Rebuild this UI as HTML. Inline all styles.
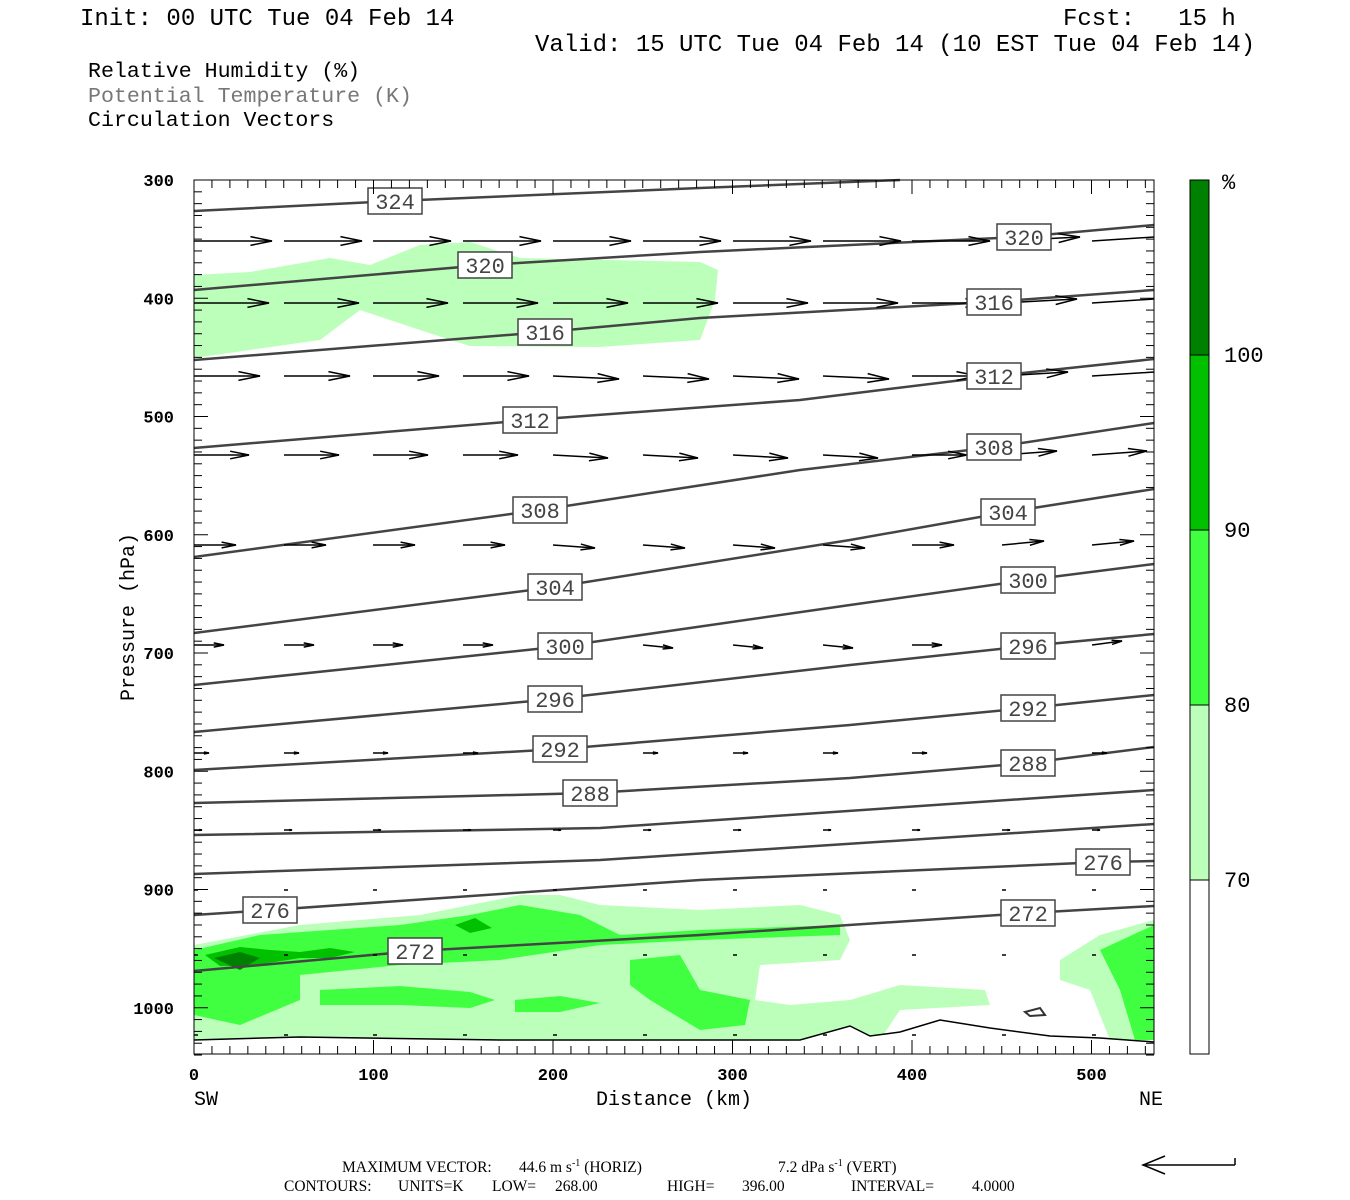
<!DOCTYPE html>
<html><head><meta charset="utf-8"><style>
body{margin:0;background:#fff;width:1350px;height:1200px;overflow:hidden}
svg{position:absolute;left:0;top:0}
</style></head><body>
<svg id="s" width="1350" height="1200" xmlns="http://www.w3.org/2000/svg" font-family="Liberation Mono, monospace">
<g font-size="24" fill="#000">
<text x="80" y="25">Init: 00 UTC Tue 04 Feb 14</text>
<text x="1063" y="25" xml:space="preserve">Fcst:   15 h</text>
<text x="535" y="51">Valid: 15 UTC Tue 04 Feb 14 (10 EST Tue 04 Feb 14)</text>
</g>
<g font-size="21.6">
<text x="88" y="77">Relative Humidity (%)</text>
<text x="88" y="102" fill="#777">Potential Temperature (K)</text>
<text x="88" y="126">Circulation Vectors</text>
</g>
<g stroke="none">
<polygon fill="#bbffbb" points="194,275 250,272 330,258 370,265 420,245 470,242 520,258 700,262 718,270 715,300 700,340 600,347 470,346 420,330 360,310 320,340 250,350 194,358"/>
<polygon fill="#bbffbb" points="194,945 300,925 420,915 520,895 560,895 600,905 700,910 800,905 840,915 850,940 840,960 760,965 755,1000 790,1005 850,1000 900,985 985,990 990,1005 900,1010 880,1040 194,1040"/>
<polygon fill="#bbffbb" points="1060,960 1100,935 1154,920 1154,1040 1110,1040 1090,990 1060,980"/>
<polygon fill="#40ff40" points="194,950 260,935 400,925 470,915 520,905 580,915 620,935 700,930 840,925 840,935 700,940 600,945 500,960 400,965 300,975 300,1000 240,1025 194,1015"/>
<polygon fill="#40ff40" points="630,960 680,955 700,990 750,1000 745,1025 700,1030 650,1000 630,985"/>
<polygon fill="#40ff40" points="320,990 400,986 470,992 495,1000 470,1008 400,1005 320,1005"/>
<polygon fill="#40ff40" points="515,1000 560,996 600,1003 560,1012 515,1012"/>
<polygon fill="#40ff40" points="1100,950 1154,925 1154,1040 1135,1040 1120,990"/>
<polygon fill="#00c000" points="205,955 240,947 270,950 300,952 330,948 355,952 330,958 300,958 250,966 220,966"/>
<polygon fill="#00c000" points="455,925 475,918 492,928 470,933"/>
<polygon fill="#008000" points="214,958 240,952 260,958 240,970"/>
<polygon fill="#fff" points="194,1040 300,1037 500,1040 700,1040 800,1040 850,1026 870,1036 900,1032 940,1020 990,1028 1050,1036 1100,1038 1154,1042 1154,1054 194,1054"/>
</g>
<polyline points="194,1040 300,1037 500,1040 700,1040 800,1040 850,1026 870,1036 900,1032 940,1020 990,1028 1050,1036 1100,1038 1154,1042" fill="none" stroke="#000" stroke-width="1.5"/>
<polygon points="1025,1012 1040,1008 1045,1015 1030,1016" fill="none" stroke="#333" stroke-width="2"/>
<g id="th" fill="none" stroke="#444" stroke-width="2.5"></g>
<g id="ar" fill="none" stroke="#000" stroke-width="1.5"></g>
<g id="lb" font-size="22" fill="#444"></g>
<g id="ax" stroke="#000" stroke-width="1"></g>
<rect x="194" y="180" width="960" height="874" fill="none" stroke="#000" stroke-width="1"/>
<g font-size="17" font-weight="bold" text-anchor="end" id="yl"></g>
<g font-size="17" font-weight="bold" text-anchor="middle" id="xl"></g>
<text font-size="20" x="0" y="0" transform="translate(134,617) rotate(-90)" text-anchor="middle">Pressure (hPa)</text>
<text font-size="20" x="674" y="1105" text-anchor="middle">Distance (km)</text>
<text font-size="20" x="194" y="1105">SW</text>
<text font-size="20" x="1139" y="1105">NE</text>
<rect x="1190" y="180" width="19" height="175" fill="#008000"/>
<rect x="1190" y="355" width="19" height="175" fill="#00c000"/>
<rect x="1190" y="530" width="19" height="175" fill="#40ff40"/>
<rect x="1190" y="705" width="19" height="175" fill="#bbffbb"/>
<rect x="1190" y="180" width="19" height="874" fill="none" stroke="#000"/>
<g stroke="#000"><line x1="1190" y1="355" x2="1209" y2="355"/><line x1="1190" y1="530" x2="1209" y2="530"/><line x1="1190" y1="705" x2="1209" y2="705"/><line x1="1190" y1="880" x2="1209" y2="880"/></g>
<g font-size="22"><text x="1222" y="189">%</text><text x="1224" y="362">100</text><text x="1224" y="537">90</text><text x="1224" y="712">80</text><text x="1224" y="887">70</text></g>
<g font-family="Liberation Serif, serif" font-size="15.5">
<text x="342" y="1172">MAXIMUM VECTOR:</text>
<text x="519" y="1172">44.6 m s<tspan dy="-6" font-size="10">-1</tspan><tspan dy="6"> (HORIZ)</tspan></text>
<text x="778" y="1172">7.2 dPa s<tspan dy="-6" font-size="10">-1</tspan><tspan dy="6"> (VERT)</tspan></text>
<text x="284" y="1191">CONTOURS:</text>
<text x="398" y="1191">UNITS=K</text>
<text x="492" y="1191">LOW=</text>
<text x="555" y="1191">268.00</text>
<text x="667" y="1191">HIGH=</text>
<text x="742" y="1191">396.00</text>
<text x="851" y="1191">INTERVAL=</text>
<text x="972" y="1191">4.0000</text>
</g>
<g stroke="#000" stroke-width="1.5" fill="none"><line x1="1143" y1="1165" x2="1235" y2="1165"/><line x1="1235" y1="1165" x2="1235" y2="1158"/><polyline points="1165,1156 1143,1165 1165,1174"/></g>
</svg>
<script>
const NS="http://www.w3.org/2000/svg";
function el(p,t,a,txt){const e=document.createElementNS(NS,t);for(const k in a)e.setAttribute(k,a[k]);if(txt!=null)e.textContent=txt;document.getElementById(p).appendChild(e);return e;}
const lines=[
"194,211 395,201 700,188 900,180",
"194,290 485,265 700,252 1020,237 1154,225",
"194,360 545,332 700,318 990,302 1154,290",
"194,448 530,420 800,400 995,376 1154,359",
"194,557 540,510 800,470 995,447 1154,423",
"194,633 555,587 850,540 1008,512 1154,489",
"194,685 565,646 850,605 1028,580 1154,564",
"194,732 555,699 850,665 1028,646 1154,634",
"194,770 560,749 850,725 1028,708 1154,695",
"194,803 590,793 850,778 1028,763 1154,747",
"194,835 600,828 1154,790",
"194,874 600,860 1154,824",
"194,915 270,910 700,880 1103,862 1154,861",
"194,971 415,951 700,935 1028,913 1154,906"];
lines.forEach(l=>el("th","polyline",{points:l}));
const cols=[194,284,373,463,553,643,733,823,912,1002,1092];
const rows=[[241,78],[303,75],[376,66],[455,55],[545,42],[645,30],[753,15],[830,8],[890,4],[955,4],[1035,4]];
rows.forEach((r,ri)=>{cols.forEach((x,ci)=>{let L=r[1];let y=r[0];let dy=0;
 if(ri<6&&ci>=9)dy=-4;
 if(ri>=2&&ri<6&&ci>=4&&ci<=7)dy=3;
 let x2=x+L;if(x2>1154)x2=1154;
 el("ar","line",{x1:x,y1:y,x2:x2,y2:y+dy});
 if(x+L<=1154&&L>6){const h=Math.min(22,L*0.35);const ang=Math.atan2(dy,L);
 const a1=ang+Math.PI-0.2,a2=ang+Math.PI+0.2;
 el("ar","polyline",{points:`${x2+h*Math.cos(a1)},${y+dy+h*Math.sin(a1)} ${x2},${y+dy} ${x2+h*Math.cos(a2)},${y+dy+h*Math.sin(a2)}`});}
});});
const labs=[[395,201,"324"],[485,265,"320"],[545,332,"316"],[530,420,"312"],[540,510,"308"],[555,587,"304"],[565,646,"300"],[555,699,"296"],[560,749,"292"],[590,793,"288"],[270,910,"276"],[415,951,"272"],
[1024,237,"320"],[994,302,"316"],[994,376,"312"],[994,447,"308"],[1008,512,"304"],[1028,580,"300"],[1028,646,"296"],[1028,708,"292"],[1028,763,"288"],[1103,862,"276"],[1028,913,"272"]];
labs.forEach(l=>{el("lb","rect",{x:l[0]-27,y:l[1]-13,width:54,height:26,fill:"#fff",stroke:"#444","stroke-width":1.5});
 el("lb","text",{x:l[0],y:l[1]+8,"text-anchor":"middle"},l[2]);});
const py=p=>180+(p-300)*1.1825;
for(let p=300;p<=1040;p+=10){const y=py(p);const L=(p%100==0)?14:8;
 el("ax","line",{x1:194,y1:y,x2:194+L,y2:y});el("ax","line",{x1:1154-L,y1:y,x2:1154,y2:y});}
[300,400,500,600,700,800,900,1000].forEach(p=>el("yl","text",{x:174,y:py(p)+6},String(p)));
const px=d=>194+d*1.795;
for(let d=0;d<=535;d+=10){const x=px(d);const L=(d%100==0)?14:8;
 el("ax","line",{x1:x,y1:1054,x2:x,y2:1054-L});el("ax","line",{x1:x,y1:180,x2:x,y2:180+L});}
[0,100,200,300,400,500].forEach(d=>el("xl","text",{x:px(d),y:1080},String(d)));
</script>
</body></html>
